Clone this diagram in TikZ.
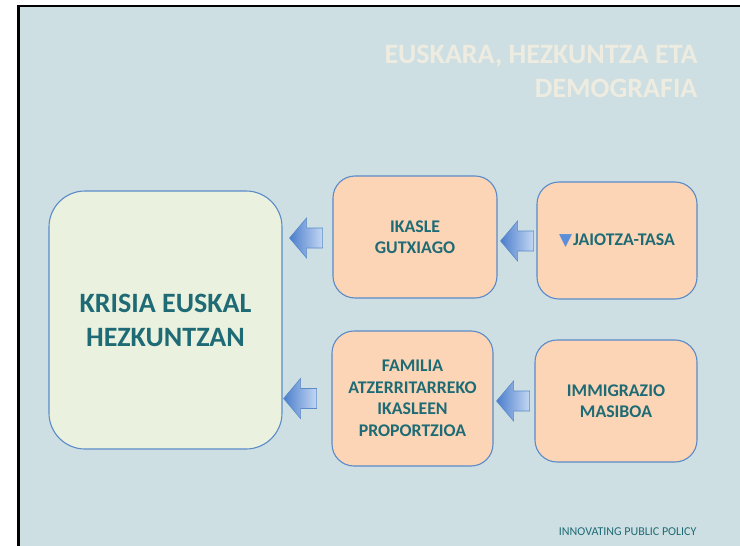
\documentclass[tikz,border=0pt]{standalone}
\usepackage{fontspec}
\setmainfont{Carlito}[BoldFont={Carlito Bold}]
\newfontfamily\symfont{DejaVu Sans}
\usetikzlibrary{calc}
\definecolor{slidebg}{HTML}{CDDFE2}
\definecolor{peach}{HTML}{FBD5B5}
\definecolor{palegreen}{HTML}{EBF1DF}
\definecolor{boxline}{HTML}{5B8BC9}
\definecolor{teal}{HTML}{1E6B76}
\definecolor{titlecol}{HTML}{EEECE1}
\definecolor{arrdark}{HTML}{4C7ECC}
\definecolor{arrlight}{HTML}{C3D7F3}
\definecolor{tri}{HTML}{5B8FDA}
\tikzset{
  smallbox/.style={draw=boxline, line width=1.1pt, fill=peach, rounded corners=22pt,
    align=center, text=teal, font=\fontsize{17.8}{21.5}\selectfont\bfseries, inner sep=0pt},
  bigbox/.style={draw=boxline, line width=1.1pt, fill=palegreen, rounded corners=36pt,
    align=center, text=teal, font=\fontsize{28}{34}\selectfont\bfseries, inner sep=0pt,
    minimum width=233pt, minimum height=258pt},
  blockarrow/.pic={
    \path[draw=boxline, line width=0.6pt, left color=arrdark, right color=arrlight]
      (0,0) -- (17,-20) -- (17,-10) -- (33,-10) -- (33,10) -- (17,10) -- (17,20) -- cycle;
  }
}
\begin{document}
\begin{tikzpicture}[x=1pt, y=-1pt]
\useasboundingbox (0,0) rectangle (740,546);
\fill[white] (0,0) rectangle (740,546);
\fill[slidebg] (18.5,6) rectangle (740,546);
\draw[black, line width=2.6pt] (18.5,546) -- (18.5,6) -- (740,6);

\node[anchor=east, align=right, text=titlecol, font=\fontsize{28}{34}\selectfont\bfseries]
  (title) at (701,71) {EUSKARA, HEZKUNTZA ETA\\DEMOGRAFIA};

\node[bigbox] (krisia) at (165.5,320) {KRISIA EUSKAL\\HEZKUNTZAN};
\node[smallbox, minimum width=164pt, minimum height=122pt] (ikasle) at (415,237) {IKASLE\\GUTXIAGO};
\node[smallbox, minimum width=160pt, minimum height=117pt] (jaiotza) at (617,240.5)
  {{\symfont\color{tri}\fontsize{17}{17}\selectfont ▼}\hspace{1pt}JAIOTZA-TASA};
\node[smallbox, minimum width=161pt, minimum height=135pt] (familia) at (412.5,398.5)
  {FAMILIA\\ATZERRITARREKO\\IKASLEEN\\PROPORTZIOA};
\node[smallbox, minimum width=162pt, minimum height=122pt] (immig) at (616,401) {IMMIGRAZIO\\MASIBOA};

\coordinate (t1) at ($(krisia.east |- ikasle.west)+(7,1)$);
\coordinate (t2) at ($(ikasle.east |- jaiotza.west)+(3,0.5)$);
\coordinate (t3) at ($(krisia.east |- familia.west)+(1,0)$);
\coordinate (t4) at ($(familia.east |- immig.west)+(3,0)$);
\pic at (t1) {blockarrow};
\pic at (t2) {blockarrow};
\pic at (t3) {blockarrow};
\pic at (t4) {blockarrow};

\node[anchor=base east, text=teal, font=\fontsize{12}{13}\selectfont] (footer) at (700,535)
  {INNOVATING PUBLIC POLICY};
\end{tikzpicture}
\end{document}
